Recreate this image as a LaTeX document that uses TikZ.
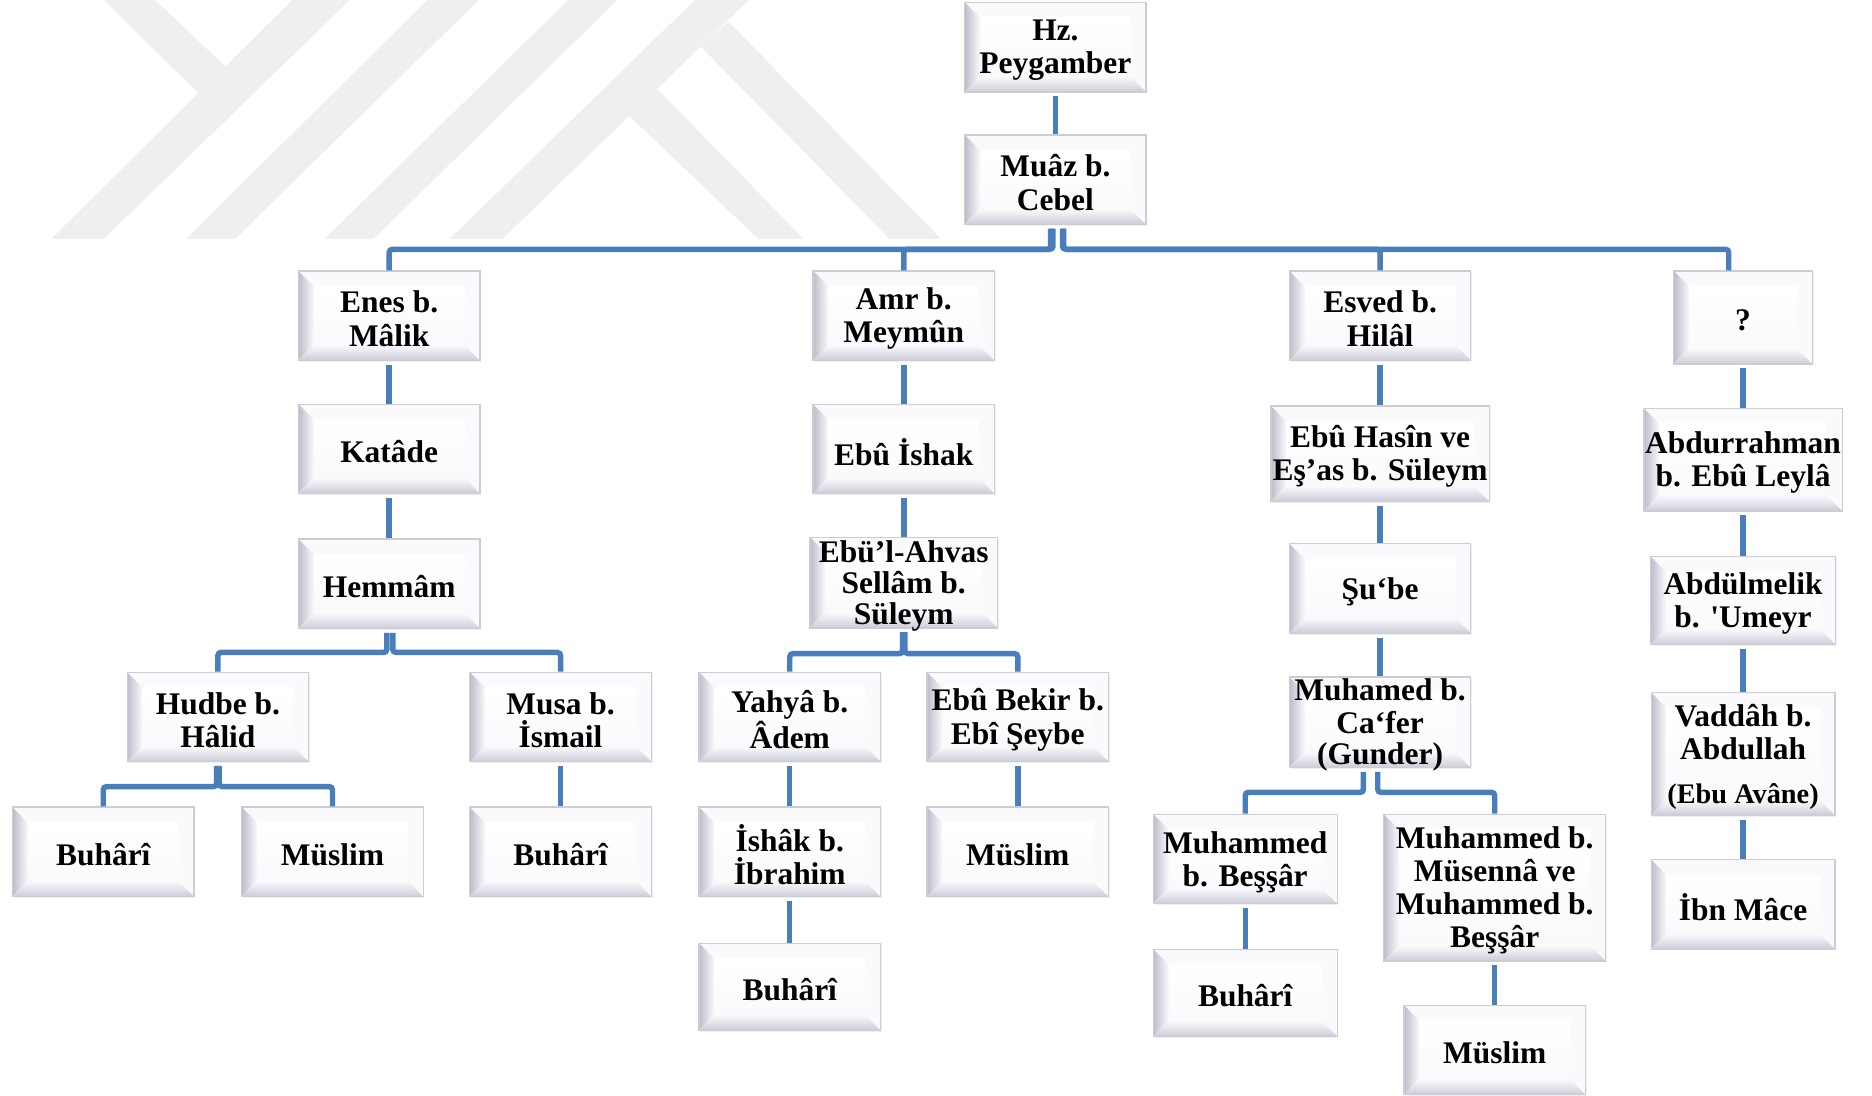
\documentclass[tikz,border=0pt]{standalone}
\usepackage{fontspec}
\setmainfont{Liberation Serif}
\usetikzlibrary{positioning,calc,shadows}
\definecolor{hatrenk}{RGB}{74,126,187}
\definecolor{kenar}{RGB}{204,204,212}
\definecolor{yuz}{RGB}{250,250,253}
\definecolor{solkoyu}{RGB}{190,190,204}
\definecolor{altkoyu}{RGB}{204,204,216}
\definecolor{filigran}{RGB}{239,239,239}
\newcommand*{\isim}{\fontsize{15}{15.8}\selectfont\bfseries}
\newcommand*{\kisi}[4][]{%
  \node[kisi,#1] (#2) at (#3) {};
  \node[yazi] (#2-t) at (#2) {#4};}

\begin{document}
\begin{tikzpicture}[x=0.02cm,y=-0.02cm,
  kisi/.style={rectangle,draw=kenar,line width=0.6pt,fill=yuz,inner sep=0pt,
    minimum width=3.04cm,minimum height=1.5cm,
    drop shadow={shadow xshift=0.6pt,shadow yshift=-0.6pt,opacity=0.12,fill=gray},
    path picture={
      \coordinate (k1) at (path picture bounding box.north west);
      \coordinate (k3) at (path picture bounding box.south east);
      \coordinate (k4) at (path picture bounding box.south west);
      % left and bottom bevel
      \fill[left color=solkoyu,right color=yuz] (k1) -- ($(k1)+(0.26cm,-0.26cm)$)
        -- ($(k4)+(0.26cm,0.26cm)$) -- (k4) -- cycle;
      \fill[top color=yuz,bottom color=altkoyu] (k4) -- ($(k4)+(0.26cm,0.26cm)$)
        -- ($(k3)+(-0.26cm,0.26cm)$) -- (k3) -- cycle;
      % face
      \fill[top color=white,bottom color=yuz] ($(k1)+(0.26cm,-0.26cm)$)
        rectangle ($(k3)+(-0.26cm,0.26cm)$);
    }},
  yazi/.style={align=center,font=\isim,inner sep=0pt,yshift=-1.4pt},
  hat/.style={draw=hatrenk,line width=2.6pt,rounded corners=1.5pt,shorten <=0.06cm}]
\useasboundingbox (0,0) rectangle (1568,917.2);
% Watermark in the corner
\fill[filigran] (245,0) -- (293,0) -- (87,200) -- (43,200) -- cycle;
\fill[filigran] (87,0) -- (130,0) -- (189,56) -- (166,78) -- cycle;
\fill[filigran] (358,0) -- (401,0) -- (197,200) -- (156,200) -- cycle;
\fill[filigran] (476,0) -- (517,0) -- (313,200) -- (272,200) -- cycle;
\fill[filigran] (582,0) -- (627,0) -- (421,200) -- (377,200) -- cycle;
\fill[filigran] (526,96) -- (550,74) -- (673,200) -- (635,200) -- cycle;
\fill[filigran] (587,39) -- (610,18) -- (788,200) -- (745,200) -- cycle;
% Top of the chain
\kisi{hz}{884,39.5}{Hz.\\Peygamber}
\kisi{muaz}{884,150.5}{Muâz b.\\Cebel}
% Second row
\kisi{enes}{326,264.5}{Enes b.\\Mâlik}
\kisi{amr}{757,264.5}{Amr b.\\Meymûn}
\kisi{esved}{1156,264.5}{Esved b.\\Hilâl}
\kisi[minimum width=2.32cm,minimum height=1.56cm]{q}{1460,266}{?}
% Third and fourth rows
\kisi{katade}{326,376}{Katâde}
\kisi{ishak}{757,376}{Ebû İshak}
\kisi[minimum width=3.66cm,minimum height=1.6cm]{hasin}{1156,380}{Ebû Hasîn ve\\Eş’as b. Süleym}
\kisi[minimum width=3.32cm,minimum height=1.72cm]{abdurrahman}{1460,385}{Abdurrahman\\b. Ebû Leylâ}
\kisi{hemmam}{326,489}{Hemmâm}
\kisi[minimum width=3.14cm,minimum height=1.52cm]{ahvas}{757,488}{Ebü’l-Ahvas\\[-1pt]Sellâm b.\\[-1pt]Süleym}
\kisi{sube}{1156,493}{Şu‘be}
\kisi[minimum width=3.1cm,minimum height=1.48cm]{abdulmelik}{1460,503}{Abdülmelik\\b. \textquotesingle Umeyr}
% Fifth row
\kisi{hudbe}{182.5,600.5}{Hudbe b.\\Hâlid}
\kisi{musa}{469.5,600.5}{Musa b.\\İsmail}
\kisi{yahya}{661.5,600.5}{Yahyâ b.\\Âdem}
\kisi{ebubekir}{852.5,600.5}{Ebû Bekir b.\\Ebî Şeybe}
\kisi[minimum height=1.52cm]{cafer}{1156,605}{Muhamed b.\\Ca‘fer\\[-1pt](Gunder)}
\kisi[minimum width=3.08cm,minimum height=2.06cm]{vaddah}{1460,631.5}{Vaddâh b.\\Abdullah\\[5pt]{\fontsize{13.5}{15}\selectfont(Ebu Avâne)}}
% Sixth row
\kisi{buhari1}{86.5,713.5}{Buhârî}
\kisi{muslim1}{278.5,713.5}{Müslim}
\kisi{buhari2}{469.5,713.5}{Buhârî}
\kisi{ishakb}{661.5,713.5}{İshâk b.\\İbrahim}
\kisi{muslim2}{852.5,713.5}{Müslim}
\kisi[minimum width=3.08cm]{bessar}{1043,719.5}{Muhammed\\b. Beşşâr}
\kisi[minimum width=3.72cm,minimum height=2.46cm]{musenna}{1252,743.5}{Muhammed b.\\Müsennâ ve\\Muhammed b.\\Beşşâr}
\kisi[minimum width=3.08cm]{ibnmace}{1460,757.5}{İbn Mâce}
% Last row
\kisi[minimum height=1.46cm]{buhari3}{661.5,826.5}{Buhârî}
\kisi[minimum width=3.08cm,minimum height=1.46cm]{buhari4}{1043,831.5}{Buhârî}
\kisi{muslim3}{1252,879.5}{Müslim}
% Levels of the branching lines
\coordinate (bus1) at (0,208.8);
\coordinate (bus2) at (0,546.5);
\coordinate (bus3) at (0,658.9);
\coordinate (bus4) at (0,547.5);
\coordinate (bus5) at (0,663.7);
\coordinate (q-ust) at ($(q.north)+(-0.24cm,0)$);
% Connectors
\draw[hat] (hz) -- (muaz);
\draw[hat] ([xshift=-0.08cm]muaz.south) |- (bus1 -| enes.north) -- (enes.north);
\draw[hat] ([xshift=-0.04cm]muaz.south) |- (bus1 -| amr.north) -- (amr.north);
\draw[hat] ([xshift=0.12cm]muaz.south) |- (bus1 -| esved.north) -- (esved.north);
\draw[hat] ([xshift=0.14cm]muaz.south) |- (bus1 -| q-ust) -- (q-ust);
\draw[hat] (enes) -- (katade);
\draw[hat] (katade) -- (hemmam);
\draw[hat] (amr) -- (ishak);
\draw[hat] (ishak) -- (ahvas);
\draw[hat] (esved) -- (hasin);
\draw[hat] (hasin) -- (sube);
\draw[hat] (sube) -- (cafer);
\draw[hat] (q) -- (abdurrahman);
\draw[hat] (abdurrahman) -- (abdulmelik);
\draw[hat] (abdulmelik) -- (vaddah);
\draw[hat] (vaddah) -- (ibnmace);
\draw[hat] ([xshift=-0.04cm]hemmam.south) |- (bus2 -| hudbe.north) -- (hudbe.north);
\draw[hat] ([xshift=0.06cm]hemmam.south) |- (bus2 -| musa.north) -- (musa.north);
\draw[hat] ([xshift=-0.02cm]hudbe.south) |- (bus3 -| buhari1.north) -- (buhari1.north);
\draw[hat] ([xshift=0.02cm]hudbe.south) |- (bus3 -| muslim1.north) -- (muslim1.north);
\draw[hat] (musa) -- (buhari2);
\draw[hat] ([xshift=-0.02cm]ahvas.south) |- (bus4 -| yahya.north) -- (yahya.north);
\draw[hat] ([xshift=0.02cm]ahvas.south) |- (bus4 -| ebubekir.north) -- (ebubekir.north);
\draw[hat] (yahya) -- (ishakb);
\draw[hat] (ishakb) -- (buhari3);
\draw[hat] (ebubekir) -- (muslim2);
\draw[hat] ([xshift=-0.28cm]cafer.south) |- (bus5 -| bessar.north) -- (bessar.north);
\draw[hat] ([xshift=-0.04cm]cafer.south) |- (bus5 -| musenna.north) -- (musenna.north);
\draw[hat] (bessar) -- (buhari4);
\draw[hat] (musenna) -- (muslim3);
\end{tikzpicture}
\end{document}
